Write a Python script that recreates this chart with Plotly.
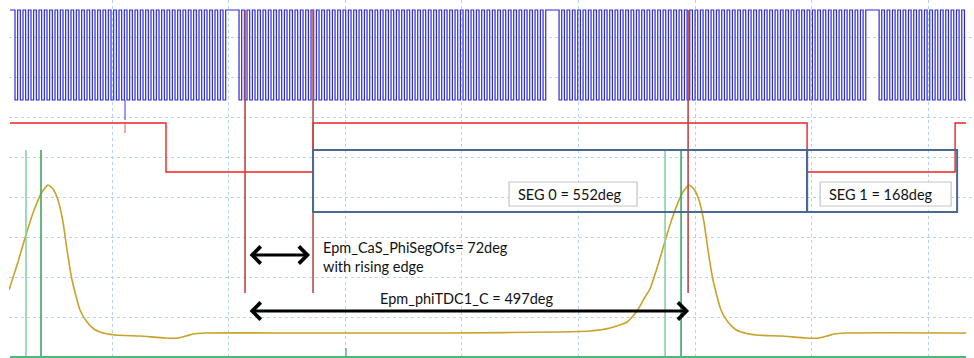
import plotly.graph_objects as go

# ---------------- data (x: crank angle in deg, 0 = first cursor; y: scope divisions) ----------------
X_RANGE = [-265.5, 820.0]
Y_RANGE = [-0.025, 8.925]
TRACE_SPAN_DEG = [-264.4, 811.1]

# crank wheel signal (blue), 60-2 wheel: first falling edge after each gap
crank_rev_start_deg = [-366.75, -6.75, 353.25, 713.25]
tooth_pitch_deg = 6.0
teeth_per_rev = 58
crank_low_div = 6.425
crank_high_div = 8.675

# cam signal (red)
cam_edges_deg = [-264.4, -88.9, 76.5, 632.25, 798.75, 811.1]
cam_levels_div = [5.85, 4.625, 5.85, 4.625, 5.85]

# small glitch at the same instant on blue and red
glitch_deg = -135.0
blue_glitch_div = 5.925
red_glitch_div = 5.6

# cylinder pressure-like signal (yellow)
yellow_deg = [-265.5, -255.4, -247.5, -238.5, -228.4, -221.6, -216.0, -210.4, -204.75, -200.25,
              -194.6, -185.6, -178.0, -170.0, -163.1, -146.25, -118.1, -90.0, -75.4, -66.4, -58.5,
              -45.0, 61.9, 230.6, 354.4, 388.1, 410.6, 429.75, 441.0, 450.0, 455.5,
              465.6, 473.5, 482.5, 492.6, 499.4, 505.0, 510.6, 516.25, 520.75, 526.4,
              535.4, 543.0, 551.0, 557.9, 574.75, 602.9, 631.0, 645.6, 654.6, 662.5, 676.0, 811.1]
yellow_div = [1.675, 2.375, 2.975, 3.6, 4.125, 4.3, 4.2, 3.925, 3.375, 2.675,
              1.925, 1.175, 0.88, 0.7, 0.625, 0.55, 0.525, 0.475, 0.475, 0.525, 0.575,
              0.6, 0.6, 0.6, 0.625, 0.65, 0.725, 0.875, 1.15, 1.5, 1.7,
              2.375, 2.975, 3.6, 4.125, 4.3, 4.2, 3.925, 3.375, 2.675, 1.925,
              1.175, 0.88, 0.7, 0.625, 0.55, 0.525, 0.475, 0.475, 0.525, 0.575, 0.6, 0.6]

# green markers
green_light_deg = [-246.4, 472.5]
green_dark_deg = [-229.5, 490.5]
green_top_div = 5.175
green_spike_deg = 113.6
green_spike_div = 0.225

# cursors (dark red)
cursor_deg = [0.0, 76.5, 498.4]
cursor_span_div = [1.6, 8.675]

# segment boxes
seg_edges_deg = [76.5, 632.25, 801.0]
seg_box_div = [3.625, 5.175]
seg_labels = ["SEG 0 = 552deg", "SEG 1 = 168deg"]
seg_label_box_deg = [[297.0, 441.0], [646.9, 794.25]]
seg_label_box_div = [3.775, 4.375]
seg_label_x_deg = [304.9, 654.4]
seg_label_y_div = 4.06

# measurement arrows & texts
ofs_arrow_deg = [3.4, 73.1]
ofs_arrow_div = 2.55
tdc_arrow_deg = [3.4, 499.5]
tdc_arrow_div = 1.15
ofs_text = ["Epm_CaS_PhiSegOfs= 72deg", "with rising edge"]
ofs_text_x_deg = 86.0
ofs_text_y_div = [2.75, 2.275]
tdc_text = "Epm_phiTDC1_C = 497deg"
tdc_text_x_deg = 249.2
tdc_text_y_div = 1.475

# grid
grid_x0_deg = -149.6
grid_dx_deg = 131.2

# ---------------- build ----------------
lo, hi = TRACE_SPAN_DEG
cx, cy = [lo], [crank_high_div]
for s in crank_rev_start_deg:
    for i in range(teeth_per_rev):
        t = s + i * tooth_pitch_deg
        for xe, ye in ((t, crank_low_div), (t + tooth_pitch_deg / 2, crank_high_div)):
            if lo < xe < hi:
                cx.append(xe)
                cy.append(ye)
cx.append(hi)
cy.append(cy[-1])

fig = go.Figure()

# blue crank signal
fig.add_trace(go.Scatter(x=cx, y=cy, mode="lines", line=dict(color="#2a2ae0", width=1.2, shape="hv"),
                         hoverinfo="skip"))
fig.add_trace(go.Scatter(x=[glitch_deg, glitch_deg], y=[crank_low_div, blue_glitch_div], mode="lines",
                         line=dict(color="#5a5af0", width=1.2), hoverinfo="skip"))

# red cam signal
fig.add_trace(go.Scatter(x=cam_edges_deg, y=cam_levels_div + [cam_levels_div[-1]], mode="lines",
                         line=dict(color="#ee2222", width=1.4, shape="hv"), hoverinfo="skip"))
fig.add_trace(go.Scatter(x=[glitch_deg, glitch_deg], y=[cam_levels_div[0], red_glitch_div], mode="lines",
                         line=dict(color="#ee5555", width=1.0), hoverinfo="skip"))

# yellow
fig.add_trace(go.Scatter(x=yellow_deg, y=yellow_div, mode="lines",
                         line=dict(color="#c9a227", width=1.6, shape="spline", smoothing=0.5),
                         hoverinfo="skip"))

# green
for gx in green_light_deg:
    fig.add_trace(go.Scatter(x=[gx, gx], y=[0, green_top_div], mode="lines",
                             line=dict(color="#86d3a4", width=1.6), hoverinfo="skip"))
for gx in green_dark_deg:
    fig.add_trace(go.Scatter(x=[gx, gx], y=[0, green_top_div], mode="lines",
                             line=dict(color="#3aa865", width=1.6), hoverinfo="skip"))
fig.add_trace(go.Scatter(x=[green_spike_deg, green_spike_deg], y=[0, green_spike_div], mode="lines",
                         line=dict(color="#3aa865", width=1.2), hoverinfo="skip"))
fig.add_trace(go.Scatter(x=[lo, hi], y=[0.0, 0.0], mode="lines",
                         line=dict(color="#4cb87a", width=2), hoverinfo="skip"))

# cursors
for c in cursor_deg:
    fig.add_trace(go.Scatter(x=[c, c], y=cursor_span_div, mode="lines",
                             line=dict(color="#bc4744", width=1.6), hoverinfo="skip"))

shapes = []
for a, b in zip(seg_edges_deg[:-1], seg_edges_deg[1:]):
    shapes.append(dict(type="rect", xref="x", yref="y", x0=a, x1=b, y0=seg_box_div[0], y1=seg_box_div[1],
                       line=dict(color="#4a6890", width=2), fillcolor="rgba(0,0,0,0)"))
for bx in seg_label_box_deg:
    shapes.append(dict(type="rect", xref="x", yref="y", x0=bx[0], x1=bx[1],
                       y0=seg_label_box_div[0], y1=seg_label_box_div[1],
                       line=dict(color="#c4c4c4", width=1.2), fillcolor="white"))

FONT = dict(family="Lato, 'Open Sans', sans-serif", size=14.5, color="#111111")
ann = []
for lab, lx in zip(seg_labels, seg_label_x_deg):
    ann.append(dict(x=lx, y=seg_label_y_div, xref="x", yref="y", text=lab, showarrow=False,
                    xanchor="left", yanchor="middle", font=FONT))
for t, ty in zip(ofs_text, ofs_text_y_div):
    ann.append(dict(x=ofs_text_x_deg, y=ty, xref="x", yref="y", text=t, showarrow=False,
                    xanchor="left", yanchor="middle", font=FONT))
ann.append(dict(x=tdc_text_x_deg, y=tdc_text_y_div, xref="x", yref="y", text=tdc_text, showarrow=False,
                xanchor="center", yanchor="middle", font=FONT))
for (a, b), yy in ((ofs_arrow_deg, ofs_arrow_div), (tdc_arrow_deg, tdc_arrow_div)):
    ann.append(dict(x=b, y=yy, ax=a, ay=yy, xref="x", yref="y", axref="x", ayref="y", text="",
                    showarrow=True, arrowhead=4, startarrowhead=4, arrowside="end+start",
                    arrowwidth=3, arrowsize=1.1, startarrowsize=1.1, arrowcolor="black",
                    standoff=0, startstandoff=0))

fig.update_layout(
    width=974, height=358, margin=dict(l=9, r=0, t=0, b=0),
    paper_bgcolor="white", plot_bgcolor="white", showlegend=False,
    shapes=shapes, annotations=ann,
    xaxis=dict(range=X_RANGE, showgrid=True, gridcolor="#b3d6ea", griddash="dot", gridwidth=1,
               tick0=grid_x0_deg, dtick=grid_dx_deg, showticklabels=False, ticks="", zeroline=False,
               showline=False, fixedrange=True),
    yaxis=dict(range=Y_RANGE, showgrid=True, gridcolor="#b3d6ea", griddash="dot", gridwidth=1,
               tick0=0, dtick=1, showticklabels=False, ticks="", zeroline=False,
               showline=False, fixedrange=True),
)

fig.write_html("out.html", config={"staticPlot": True},
               post_script="document.body.style.margin='0';document.body.style.overflow='hidden';")
